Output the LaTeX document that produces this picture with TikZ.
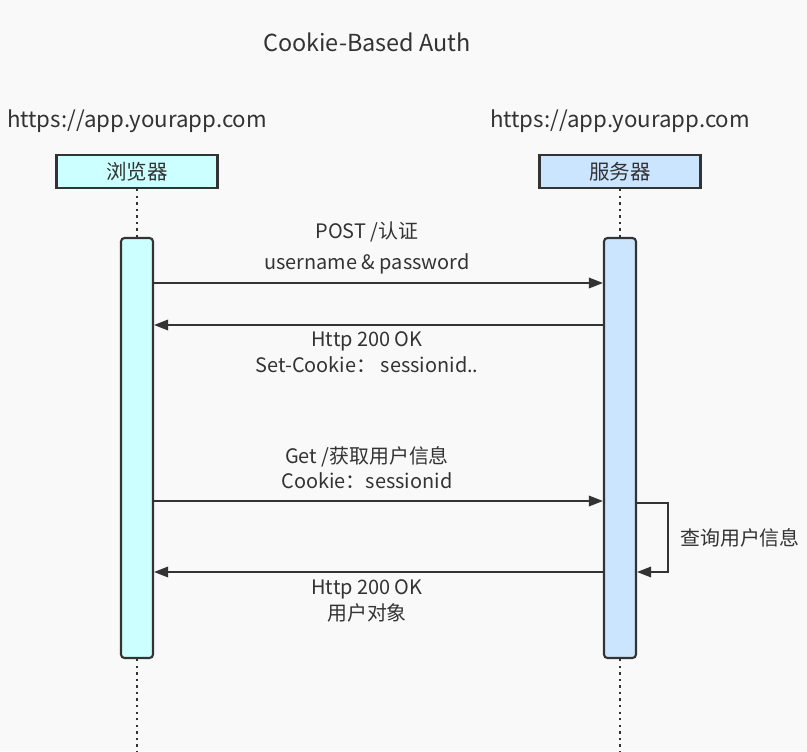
\documentclass[tikz,border=0pt]{standalone}
\usepackage{fontspec}
\setmainfont{Noto Sans CJK SC}
\usetikzlibrary{arrows.meta}
\definecolor{bggray}{RGB}{249,249,249}
\definecolor{linegray}{RGB}{51,51,51}
\definecolor{browsercyan}{RGB}{204,255,255}
\definecolor{serverblue}{RGB}{204,229,255}

\tikzset{
  actor/.style={draw=linegray, line width=1.8pt, minimum width=161*0.03cm, minimum height=33*0.03cm, inner sep=0pt},
  activation/.style={draw=linegray, line width=1.8pt, rounded corners=3pt, minimum width=32*0.03cm, minimum height=420*0.03cm, inner sep=0pt},
  lifeline/.style={draw=linegray, line width=2.2pt, dash pattern=on 2pt off 3.6pt},
  msg/.style={draw=linegray, line width=1.5pt, -{Triangle[length=12pt,width=9pt]}},
  lbl/.style={text=linegray, font=\fontsize{17}{20}\selectfont, inner sep=0pt},
  head/.style={lbl, font=\fontsize{19}{22}\selectfont},
}

\begin{document}
\begin{tikzpicture}[x=0.03cm,y=-0.03cm]
	\useasboundingbox[fill=bggray] (0,0) rectangle (807,751);
	
	\node[head, font=\fontsize{20}{23}\selectfont] (title) at (367,42) {Cookie-Based Auth};
	\node[head] (urlB) at (137,121) {https://app.yourapp.com};
	\node[head] (urlS) at (620,121) {https://app.yourapp.com};
	
	\node[actor, fill=browsercyan] (browser) at (137,171.5) {};
	\node[lbl, font=\fontsize{17.5}{20}\selectfont] at (browser) {浏览器};
	\node[actor, fill=serverblue] (server) at (620,171.5) {};
	\node[lbl, font=\fontsize{17.5}{20}\selectfont] at (server) {服务器};
	
	\node[activation, fill=browsercyan] (actB) at (137,448) {};
	\node[activation, fill=serverblue] (actS) at (620,448) {};
	
	\coordinate (endB) at (137,751);
	\coordinate (endS) at (620,751);
	\draw[lifeline] (browser.south) -- (actB.north);
	\draw[lifeline] (server.south) -- (actS.north);
	\draw[lifeline] (actB.south) -- (endB);
	\draw[lifeline] (actS.south) -- (endS);
	
	\coordinate (m1) at (0,283);
	\coordinate (m2) at (0,325);
	\coordinate (m3) at (0,501);
	\coordinate (m4) at (0,572);
	\coordinate (loopA) at (668,503);
	\coordinate (loopB) at (668,572);
	
	\draw[msg] (actB.east |- m1) -- (actS.west |- m1);
	\draw[msg] (actS.west |- m2) -- (actB.east |- m2);
	\draw[msg] (actB.east |- m3) -- (actS.west |- m3);
	\draw[msg] (actS.east |- loopA) -- (loopA) -- (loopB) -- (actS.east |- loopB);
	\draw[msg] (actS.west |- m4) -- (actB.east |- m4);
	
	\node[lbl] at (367,232) {POST /认证};
	\node[lbl] at (367,264) {username \& password};
	\node[lbl] at (367,341) {Http 200 OK};
	\node[lbl] at (367,365) {Set-Cookie：\ sessionid..};
	\node[lbl] at (367,457) {Get /获取用户信息};
	\node[lbl] at (367,481) {Cookie：sessionid};
	\node[lbl] at (740,538) {查询用户信息};
	\node[lbl] at (367,589) {Http 200 OK};
	\node[lbl] at (367,613) {用户对象};
\end{tikzpicture}
\end{document}
